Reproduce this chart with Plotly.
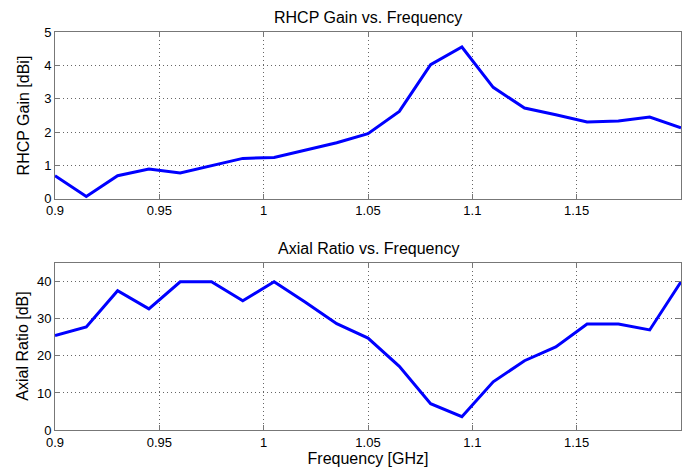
import plotly.graph_objects as go
from plotly.subplots import make_subplots

freq = [0.9, 0.915, 0.93, 0.945, 0.96, 0.975, 0.99, 1.005, 1.02, 1.035, 1.05,
        1.065, 1.08, 1.095, 1.11, 1.125, 1.14, 1.155, 1.17, 1.185, 1.2]
gain = [0.69, 0.07, 0.69, 0.89, 0.77, 1.0, 1.21, 1.24, 1.45, 1.68, 1.95,
        2.62, 4.02, 4.55, 3.34, 2.72, 2.52, 2.30, 2.33, 2.45, 2.13]
axial = [25.5, 27.8, 37.6, 32.7, 40.0, 40.0, 34.9, 40.0, 34.5, 28.7, 24.8,
         17.2, 7.1, 3.6, 13.0, 18.7, 22.4, 28.6, 28.6, 27.0, 40.0]
xticks = [0.9, 0.95, 1.0, 1.05, 1.1, 1.15]
xticklabels = ["0.9", "0.95", "1", "1.05", "1.1", "1.15"]
gain_ticks = [0, 1, 2, 3, 4, 5]
ar_ticks = [0, 10, 20, 30, 40]

W, H = 691, 472
ml, mr, mt, mb = 55, 9, 32, 39
ph = H - mt - mb
pw = W - ml - mr
top_h = 168.0
bot_h = 168.0

fig = make_subplots(rows=2, cols=1)
line = dict(color="#0000ff", width=3)
fig.add_trace(go.Scatter(x=freq, y=gain, mode="lines", line=line, showlegend=False), row=1, col=1)
fig.add_trace(go.Scatter(x=freq, y=axial, mode="lines", line=line, showlegend=False), row=2, col=1)

FONT = "Liberation Sans, Arial"
axcommon = dict(
    showline=True, linecolor="#777777", linewidth=1, mirror="allticks",
    ticks="inside", ticklen=5, tickcolor="#777777",
    showgrid=True, gridcolor="#666666", griddash="1px,3px", gridwidth=1,
    zeroline=False, tickfont=dict(family=FONT, size=13, color="#000"),
)
fig.update_xaxes(range=[0.9, 1.2], tickvals=xticks, ticktext=xticklabels, **axcommon)
fig.update_yaxes(**axcommon)
fig.update_yaxes(range=[0, 5], tickvals=gain_ticks, row=1, col=1,
                 domain=[1 - top_h / ph, 1])
fig.update_yaxes(range=[0, 45], tickvals=ar_ticks, row=2, col=1,
                 domain=[0, bot_h / ph])
fig.update_xaxes(row=2, col=1,
                 title=dict(text="Frequency [GHz]", standoff=2,
                            font=dict(family=FONT, size=16, color="#000")))

tfont = dict(family=FONT, size=16, color="#000")
ylab_x = -(ml - 23) / pw
fig.add_annotation(text="RHCP Gain [dBi]", xref="paper", yref="y domain",
                   x=ylab_x, y=0.5, xanchor="center", yanchor="middle",
                   textangle=-90, showarrow=False, font=tfont)
fig.add_annotation(text="Axial Ratio [dB]", xref="paper", yref="y2 domain",
                   x=ylab_x, y=0.5, xanchor="center", yanchor="middle",
                   textangle=-90, showarrow=False, font=tfont)
fig.add_annotation(text="RHCP Gain vs. Frequency", xref="x domain", yref="y domain",
                   x=0.5, y=1, yshift=4, xanchor="center", yanchor="bottom",
                   showarrow=False, font=tfont)
fig.add_annotation(text="Axial Ratio vs. Frequency", xref="x2 domain", yref="y2 domain",
                   x=0.5, y=1, yshift=4, xanchor="center", yanchor="bottom",
                   showarrow=False, font=tfont)

fig.update_layout(width=W, height=H, margin=dict(l=ml, r=mr, t=mt, b=mb),
                  paper_bgcolor="white", plot_bgcolor="white",
                  font=dict(family=FONT, color="#000"))
fig.write_html("out.html")
